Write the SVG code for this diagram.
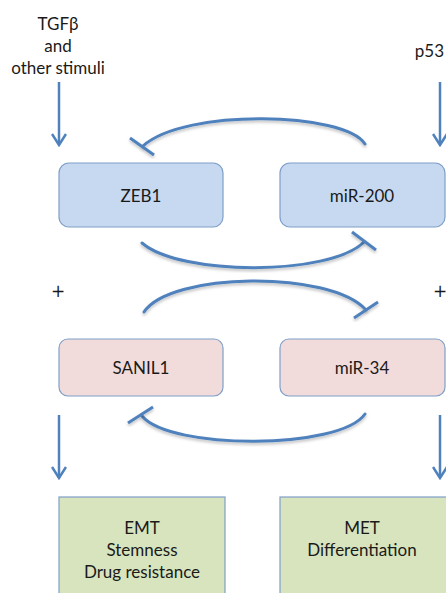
<svg xmlns="http://www.w3.org/2000/svg" width="446" height="593" viewBox="0 0 446 593">
  <defs>
    <style>
      .label { font-family: Lato, "Open Sans", "Liberation Sans", sans-serif; font-size: 17px; fill: #1a1a1a; text-anchor: middle; }
      .plus { font-family: "DejaVu Sans", sans-serif; font-size: 17px; fill: #1a1a1a; text-anchor: middle; }
      .blue { fill: #c6d9f1; stroke: #7f9fc8; stroke-width: 1.2; }
      .pink { fill: #f2dcdb; stroke: #7f9fc8; stroke-width: 1.2; }
      .green { fill: #d7e4bd; stroke: #7f9fc8; stroke-width: 1.2; }
      .arrow { fill: none; stroke: #4f81bd; stroke-width: 2.5; marker-end: url(#vhead); }
      .inhib { fill: none; stroke: #4f81bd; stroke-width: 3; stroke-linecap: round; filter: url(#shade); }
      .bar { stroke: #4f81bd; stroke-width: 3; stroke-linecap: butt; filter: url(#shade); }
    </style>
    <marker id="vhead" markerWidth="14" markerHeight="16" viewBox="0 0 14 16" refX="12" refY="8" orient="auto" markerUnits="userSpaceOnUse">
      <path d="M1,1 L12,8 L1,15" fill="none" stroke="#4f81bd" stroke-width="2.5"/>
    </marker>
    <filter id="shade" x="-20%" y="-20%" width="140%" height="140%">
      <feDropShadow dx="0" dy="2" stdDeviation="1.5" flood-color="#000" flood-opacity="0.25"/>
    </filter>
  </defs>
  <rect width="446" height="593" fill="#ffffff"/>

  <!-- upstream signals -->
  <g id="tgfb">
    <text class="label" x="58" y="30">TGFβ</text>
    <text class="label" x="58" y="52">and</text>
    <text class="label" x="58" y="74">other stimuli</text>
  </g>
  <g id="p53">
    <text class="label" x="444" y="57" style="text-anchor:end">p53</text>
  </g>

  <!-- nodes -->
  <g id="zeb1">
    <rect class="blue" x="59" y="163" width="164" height="64" rx="10"/>
    <text class="label" x="141" y="202">ZEB1</text>
  </g>
  <g id="mir200">
    <rect class="blue" x="280" y="163" width="165" height="64" rx="10"/>
    <text class="label" x="362" y="202">miR-200</text>
  </g>
  <g id="snail1">
    <rect class="pink" x="59" y="339" width="164" height="57" rx="9"/>
    <text class="label" x="141" y="374">SANIL1</text>
  </g>
  <g id="mir34">
    <rect class="pink" x="280" y="339" width="165" height="57" rx="9"/>
    <text class="label" x="362" y="374">miR-34</text>
  </g>
  <g id="emt">
    <rect class="green" x="59" y="497" width="166" height="110"/>
    <text class="label" x="142" y="534">EMT</text>
    <text class="label" x="142" y="556">Stemness</text>
    <text class="label" x="142" y="578">Drug resistance</text>
  </g>
  <g id="met">
    <rect class="green" x="280" y="497" width="170" height="110"/>
    <text class="label" x="362" y="534">MET</text>
    <text class="label" x="362" y="556">Differentiation</text>
  </g>

  <!-- plus signs between the two loops -->
  <g id="plus-left">
    <text class="plus" x="58" y="297">+</text>
  </g>
  <g id="plus-right">
    <text class="plus" x="440" y="297">+</text>
  </g>

  <!-- connectors -->
  <g id="connectors">
    <!-- activation arrows -->
    <line class="arrow" x1="59" y1="82" x2="59" y2="145"/>
    <line class="arrow" x1="440" y1="82" x2="440" y2="145"/>
    <line class="arrow" x1="59" y1="415" x2="59" y2="478"/>
    <line class="arrow" x1="440" y1="415" x2="440" y2="478"/>

    <!-- miR-200 -| ZEB1 -->
    <path class="inhib" d="M365,144 C345,112 185,108 143,146"/>
    <line class="bar" x1="130" y1="138" x2="154" y2="155"/>

    <!-- ZEB1 -| miR-200 -->
    <path class="inhib" d="M142,243 C180,276 330,276 364,242"/>
    <line class="bar" x1="352" y1="232" x2="376" y2="250"/>

    <!-- SANIL1 -| miR-34 -->
    <path class="inhib" d="M144,312 C170,272 330,270 366,310"/>
    <line class="bar" x1="354" y1="318" x2="378" y2="302"/>

    <!-- miR-34 -| SANIL1 -->
    <path class="inhib" d="M365,414 C340,450 170,450 142,416"/>
    <line class="bar" x1="128" y1="423" x2="153" y2="407"/>
  </g>
</svg>
